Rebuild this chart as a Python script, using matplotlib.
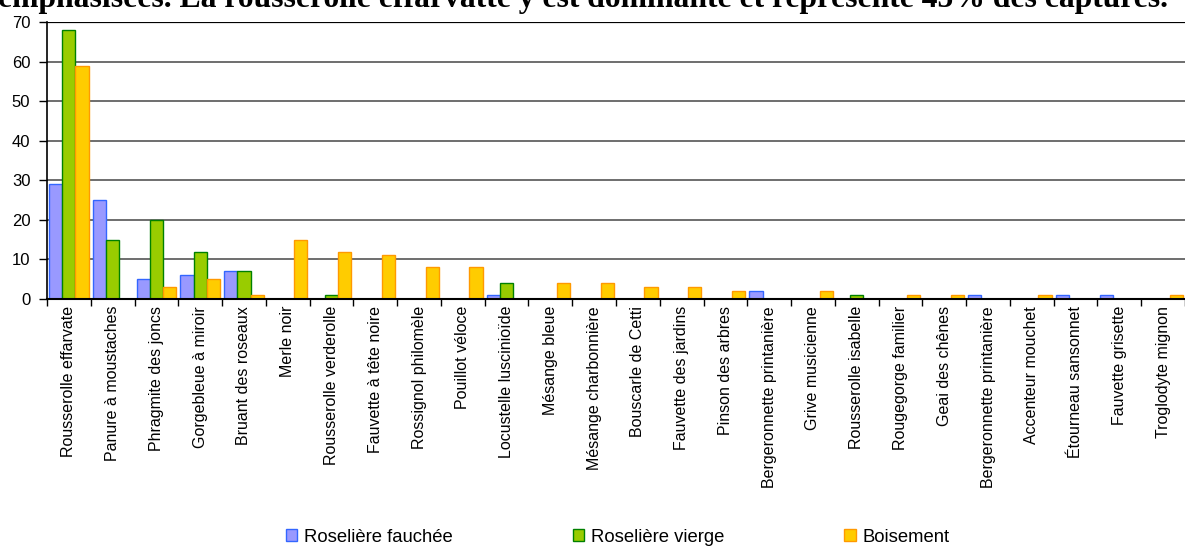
import matplotlib
matplotlib.use("Agg")
import matplotlib.pyplot as plt
import numpy as np
from matplotlib.patches import Patch

categories = ["Rousserolle effarvate", "Panure à moustaches", "Phragmite des joncs",
              "Gorgebleue à miroir", "Bruant des roseaux", "Merle noir",
              "Rousserolle verderolle", "Fauvette à tête noire", "Rossignol philomèle",
              "Pouillot véloce", "Locustelle luscinioïde", "Mésange bleue",
              "Mésange charbonnière", "Bouscarle de Cetti", "Fauvette des jardins",
              "Pinson des arbres", "Bergeronnette printanière", "Grive musicienne",
              "Rousserolle isabelle", "Rougegorge familier", "Geai des chênes",
              "Bergeronnette printanière", "Accenteur mouchet", "Étourneau sansonnet",
              "Fauvette grisette", "Troglodyte mignon"]
fauchee = [29, 25, 5, 6, 7, 0, 0, 0, 0, 0, 1, 0, 0, 0, 0, 0, 2, 0, 0, 0, 0, 1, 0, 1, 1, 0]
vierge = [68, 15, 20, 12, 7, 0, 1, 0, 0, 0, 4, 0, 0, 0, 0, 0, 0, 0, 1, 0, 0, 0, 0, 0, 0, 0]
boisement = [59, 0, 3, 5, 1, 15, 12, 11, 8, 8, 0, 4, 4, 3, 3, 2, 0, 2, 0, 1, 1, 0, 1, 0, 0, 1]
series_names = ["Roselière fauchée", "Roselière vierge", "Boisement"]
title_text = "emphasisées. La rousserolle effarvatte y est dominante et représente 45% des captures."

W, H = 1185, 547
fig = plt.figure(figsize=(W / 100, H / 100), dpi=100)
ax = fig.add_axes([47 / W, 1 - 299 / H, 1 - 47 / W, (299 - 22) / H])

fills = ["#9999FF", "#99CC00", "#FFCC00"]
edges = ["#3366FF", "#008000", "#FF9900"]
x = np.arange(len(categories))
bw = 0.3
for k, vals in enumerate([fauchee, vierge, boisement]):
    ax.bar(x + (k - 1) * bw, vals, width=bw, color=fills[k], edgecolor=edges[k],
           linewidth=1.0, zorder=3)

ax.set_xlim(-0.5, -0.5 + (W - 47) / 44.2)
ax.set_ylim(0, 70)
ax.set_yticks(range(0, 71, 10))
for v in range(10, 70, 10):
    ax.axhline(v, color="#555555", linewidth=1.2, zorder=1)
ax.axhline(70, color="black", linewidth=1.6, zorder=1)

ax.set_xticks(np.arange(len(categories) + 1) - 0.5, minor=False)
ax.set_xticklabels([])
ax.set_xticks(x, minor=True)
ax.set_xticklabels(categories, minor=True, rotation=90, fontsize=11.5,
                   family="Liberation Sans", va="top", ha="center")
ax.tick_params(axis="x", which="major", length=5, width=1, direction="out", color="black")
ax.tick_params(axis="x", which="minor", length=0, pad=5)
ax.tick_params(axis="y", length=6, width=1, direction="out", labelsize=12, pad=6)
for lab in ax.get_yticklabels():
    lab.set_family("Liberation Sans")

for s in ["top", "right"]:
    ax.spines[s].set_visible(False)
ax.spines["left"].set_linewidth(1.2)
ax.spines["bottom"].set_linewidth(1.5)
ax.spines["left"].set_zorder(4)
ax.spines["bottom"].set_zorder(4)

handles = [Patch(facecolor=fills[k], edgecolor=edges[k], linewidth=1.0) for k in range(3)]
fig.legend(handles, series_names, loc="center left", bbox_to_anchor=(286 / W, 1 - 537 / H),
           ncol=3, frameon=False, prop={"family": "Liberation Sans", "size": 13.3},
           handlelength=0.6, handleheight=0.6, handletextpad=0.38, columnspacing=6.5,
           borderpad=0.0, borderaxespad=0.0)

fig.text(-2 / W, 1 - 7 / H, title_text, family="Liberation Serif", weight="bold",
         fontsize=22.8, ha="left", va="baseline")

fig.savefig("out.png", dpi=100)
